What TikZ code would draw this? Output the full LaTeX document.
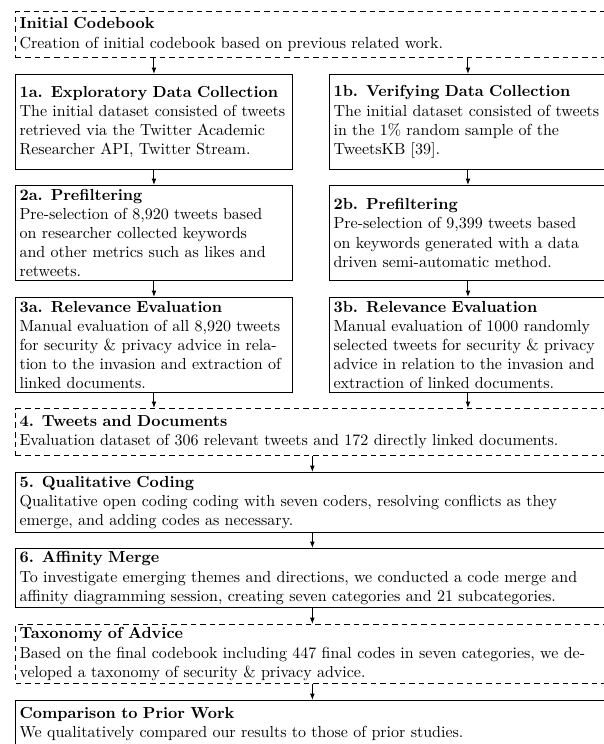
\documentclass[tikz,border=0pt]{standalone}
\usetikzlibrary{arrows.meta}
\begin{document}
\begin{tikzpicture}[x=0.625pt,y=-0.625pt]
\tikzset{
  box/.style={draw, line width=0.7pt, anchor=north west, align=left,
    inner xsep=2.5pt, inner ysep=1pt},
  full/.style={box, text width=366pt},
  half/.style={box, text width=168pt},
  dbox/.style={dash pattern=on 3.5pt off 2.5pt},
  arr/.style={-{Latex[length=4pt,width=3pt]}, line width=0.6pt}
}
\useasboundingbox (0,0) rectangle (603,744);

\node[full, dbox, minimum height=28.75pt] (ic) at (15,11)
  {\textbf{Initial Codebook}\\Creation of initial codebook based on previous related work.};

\node[half, minimum height=59.4pt] (a1) at (15,74)
  {\textbf{1a. Exploratory Data Collection}\\The initial dataset consisted of tweets\\retrieved via the Twitter Academic\\Researcher API, Twitter Stream.};
\node[half, minimum height=59.4pt] (b1) at (329,74)
  {\textbf{1b. Verifying Data Collection}\\The initial dataset consisted of tweets\\in the 1\% random sample of the\\TweetsKB [39].};

\node[half, minimum height=59.4pt] (a2) at (15,185)
  {\textbf{2a. Prefiltering}\\Pre-selection of 8,920 tweets based\\on researcher collected keywords\\and other metrics such as likes and\\retweets.};
\node[half, minimum height=59.4pt] (b2) at (329,185)
  {\textbf{2b. Prefiltering}\\Pre-selection of 9,399 tweets based\\on keywords generated with a data\\driven semi-automatic method.};

\node[half, minimum height=59.4pt] (a3) at (15,297)
  {\textbf{3a. Relevance Evaluation}\\Manual evaluation of all 8,920 tweets\\for security \& privacy advice in rela-\\tion to the invasion and extraction of\\linked documents.};
\node[half, minimum height=59.4pt] (b3) at (329,297)
  {\textbf{3b. Relevance Evaluation}\\Manual evaluation of 1000 randomly\\selected tweets for security \& privacy\\advice in relation to the invasion and\\extraction of linked documents.};

\node[full, dbox, minimum height=29.4pt] (d4) at (15,408)
  {\textbf{4. Tweets and Documents}\\Evaluation dataset of 306 relevant tweets and 172 directly linked documents.};

\node[full, minimum height=37.5pt] (q5) at (15,472)
  {\textbf{5. Qualitative Coding}\\Qualitative open coding coding with seven coders, resolving conflicts as they\\emerge, and adding codes as necessary.};

\node[full, minimum height=36.9pt] (m6) at (15,548)
  {\textbf{6. Affinity Merge}\\To investigate emerging themes and directions, we conducted a code merge and\\affinity diagramming session, creating seven categories and 21 subcategories.};

\node[full, dbox, minimum height=36.9pt] (tx) at (15,624)
  {\textbf{Taxonomy of Advice}\\Based on the final codebook including 447 final codes in seven categories, we de-\\veloped a taxonomy of security \& privacy advice.};

\node[full, minimum height=29.4pt] (cp) at (15,700)
  {\textbf{Comparison to Prior Work}\\We qualitatively compared our results to those of prior studies.};

\draw[arr] (ic.south -| a1.north) -- (a1.north);
\draw[arr] (ic.south -| b1.north) -- (b1.north);
\draw[arr] (a1.south) -- (a2.north);
\draw[arr] (a2.south) -- (a3.north);
\draw[arr] (b1.south) -- (b2.north);
\draw[arr] (b2.south) -- (b3.north);
\draw[arr] (a3.south) -- (a3.south |- d4.north);
\draw[arr] (b3.south) -- (b3.south |- d4.north);
\draw[arr] (d4.south) -- (q5.north);
\draw[arr] (q5.south) -- (m6.north);
\draw[arr] (m6.south) -- (tx.north);
\draw[arr] (tx.south) -- (cp.north);
\end{tikzpicture}
\end{document}
